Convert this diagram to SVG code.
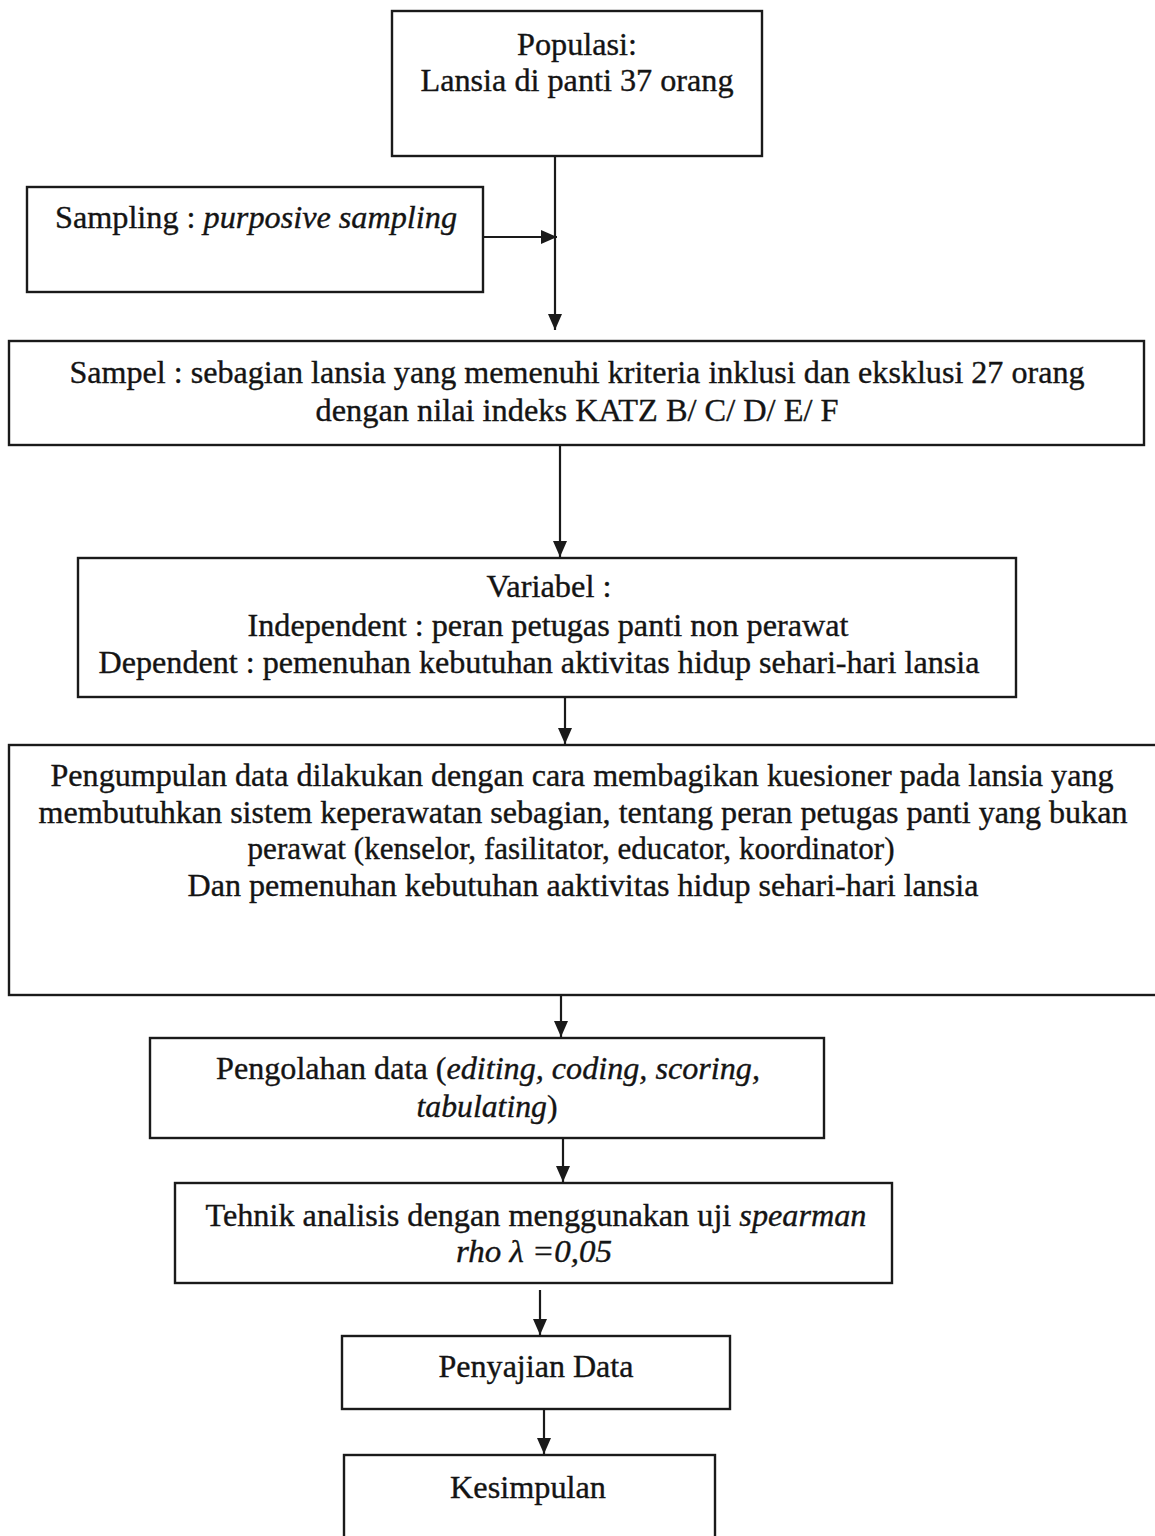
<svg xmlns="http://www.w3.org/2000/svg" width="1155" height="1536" viewBox="0 0 1155 1536">
  <style>
    .box { fill: #ffffff; stroke: #1a1a1a; stroke-width: 2.4; }
    .t { font-family: 'Liberation Serif', Tinos, 'Times New Roman', Times, serif; font-size: 31px; fill: #141414; stroke: #141414; stroke-width: 0.35; text-anchor: middle; }
    .i { font-style: italic; }
    .link { stroke: #1a1a1a; stroke-width: 2.2; fill: none; marker-end: url(#arrow); }
  </style>
  <defs>
    <marker id="arrow" viewBox="0 0 16 14" refX="16" refY="7" markerWidth="16" markerHeight="14" markerUnits="userSpaceOnUse" orient="auto">
      <path d="M0,0 L16,7 L0,14 Z" fill="#1a1a1a"/>
    </marker>
  </defs>
  <rect width="1155" height="1536" fill="#ffffff"/>

  <g id="connectors">
    <line class="link" x1="555" y1="157" x2="555" y2="330"/>
    <line class="link" x1="483" y1="237" x2="557" y2="237"/>
    <line class="link" x1="560" y1="445" x2="560" y2="557"/>
    <line class="link" x1="565" y1="697" x2="565" y2="744"/>
    <line class="link" x1="561" y1="995" x2="561" y2="1037"/>
    <line class="link" x1="563" y1="1138" x2="563" y2="1182"/>
    <line class="link" x1="540" y1="1290" x2="540" y2="1335"/>
    <line class="link" x1="544" y1="1409" x2="544" y2="1454"/>
  </g>

  <g id="populasi">
    <rect class="box" x="392" y="11" width="370" height="145"/>
    <text class="t" x="577" y="55" textLength="120" lengthAdjust="spacingAndGlyphs">Populasi:</text>
    <text class="t" x="577" y="91" textLength="313" lengthAdjust="spacingAndGlyphs">Lansia di panti 37 orang</text>
  </g>

  <g id="sampling">
    <rect class="box" x="27" y="187" width="456" height="105"/>
    <text class="t" x="256" y="228" textLength="402" lengthAdjust="spacingAndGlyphs">Sampling : <tspan class="i">purposive sampling</tspan></text>
  </g>

  <g id="sampel">
    <rect class="box" x="9" y="341" width="1135" height="104"/>
    <text class="t" x="577" y="383" textLength="1015" lengthAdjust="spacingAndGlyphs">Sampel : sebagian lansia yang memenuhi kriteria inklusi dan eksklusi 27 orang</text>
    <text class="t" x="577" y="421" textLength="523" lengthAdjust="spacingAndGlyphs">dengan nilai indeks KATZ B/ C/ D/ E/ F</text>
  </g>

  <g id="variabel">
    <rect class="box" x="78" y="558" width="938" height="139"/>
    <text class="t" x="549" y="597" textLength="125" lengthAdjust="spacingAndGlyphs">Variabel :</text>
    <text class="t" x="548" y="636" textLength="601" lengthAdjust="spacingAndGlyphs">Independent : peran petugas panti non perawat</text>
    <text class="t" x="539" y="673" textLength="881" lengthAdjust="spacingAndGlyphs">Dependent : pemenuhan kebutuhan aktivitas hidup sehari-hari lansia</text>
  </g>

  <g id="pengumpulan">
    <rect class="box" x="9" y="745" width="1150" height="250"/>
    <text class="t" x="582" y="786" textLength="1063" lengthAdjust="spacingAndGlyphs">Pengumpulan data dilakukan dengan cara membagikan kuesioner pada lansia yang</text>
    <text class="t" x="583" y="823" textLength="1089" lengthAdjust="spacingAndGlyphs">membutuhkan sistem keperawatan sebagian, tentang peran petugas panti yang bukan</text>
    <text class="t" x="571" y="859" textLength="647" lengthAdjust="spacingAndGlyphs">perawat (kenselor, fasilitator, educator, koordinator)</text>
    <text class="t" x="583" y="896" textLength="791" lengthAdjust="spacingAndGlyphs">Dan pemenuhan kebutuhan aaktivitas hidup sehari-hari lansia</text>
  </g>

  <g id="pengolahan">
    <rect class="box" x="150" y="1038" width="674" height="100"/>
    <text class="t" x="488" y="1079" textLength="544" lengthAdjust="spacingAndGlyphs">Pengolahan data (<tspan class="i">editing, coding, scoring,</tspan></text>
    <text class="t" x="487" y="1117" textLength="141" lengthAdjust="spacingAndGlyphs"><tspan class="i">tabulating</tspan>)</text>
  </g>

  <g id="tehnik">
    <rect class="box" x="175" y="1183" width="717" height="100"/>
    <text class="t" x="536" y="1226" textLength="661" lengthAdjust="spacingAndGlyphs">Tehnik analisis dengan menggunakan uji <tspan class="i">spearman</tspan></text>
    <text class="t i" x="534" y="1262" textLength="156" lengthAdjust="spacingAndGlyphs">rho λ =0,05</text>
  </g>

  <g id="penyajian">
    <rect class="box" x="342" y="1336" width="388" height="73"/>
    <text class="t" x="536" y="1377" textLength="195" lengthAdjust="spacingAndGlyphs">Penyajian Data</text>
  </g>

  <g id="kesimpulan">
    <rect class="box" x="344" y="1455" width="371" height="100"/>
    <text class="t" x="528" y="1498" textLength="156" lengthAdjust="spacingAndGlyphs">Kesimpulan</text>
  </g>
</svg>
